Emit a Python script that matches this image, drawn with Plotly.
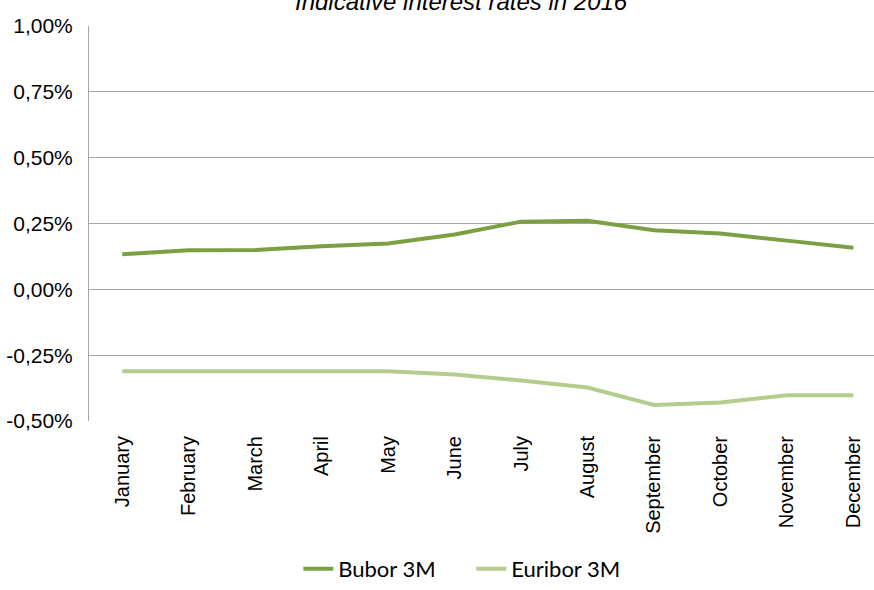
import plotly.graph_objects as go

months = ["January", "February", "March", "April", "May", "June", "July",
          "August", "September", "October", "November", "December"]
bubor = [0.133, 0.148, 0.149, 0.164, 0.174, 0.208, 0.257, 0.260, 0.224, 0.212, 0.185, 0.158]
euribor = [-0.311, -0.311, -0.311, -0.311, -0.311, -0.323, -0.346, -0.373, -0.439, -0.430, -0.402, -0.402]
ytick_vals = [-0.5, -0.25, 0.0, 0.25, 0.5, 0.75, 1.0]
ytick_text = ["-0,50%", "-0,25%", "0,00%", "0,25%", "0,50%", "0,75%", "1,00%"]
title_text = "Indicative interest rates in 2016"

fig = go.Figure()
fig.add_trace(go.Scatter(x=months, y=bubor, name="Bubor 3M", mode="lines",
                         line=dict(color="#7ba043", width=4)))
fig.add_trace(go.Scatter(x=months, y=euribor, name="Euribor 3M", mode="lines",
                         line=dict(color="#b4cd8f", width=4)))

fig.update_layout(
    width=874, height=590,
    margin=dict(l=89, r=0, t=26, b=162),
    plot_bgcolor="white", paper_bgcolor="white",
    showlegend=True,
    legend=dict(orientation="h", x=0.487, xanchor="center", y=-0.3756, yanchor="middle",
                font=dict(family="Lato", size=22, color="#000000"),
                entrywidth=128, itemwidth=30, tracegroupgap=0),
    annotations=[dict(text="<i>" + title_text + "</i>", xref="paper", yref="paper",
                      x=0.474, y=1.062, xanchor="center", yanchor="middle",
                      showarrow=False,
                      font=dict(family="Liberation Sans", size=24, color="#000000"))],
)
fig.update_xaxes(
    type="category", range=[-0.5, 11.31],
    tickangle=-90, showgrid=False, showline=False, zeroline=False,
    ticks="", ticklabelstandoff=10,
    tickfont=dict(family="Liberation Sans", size=20, color="#000000"),
)
fig.update_yaxes(
    range=[-0.5, 1.0], tickvals=ytick_vals, ticktext=ytick_text,
    showgrid=True, gridcolor="#a6a6a6", gridwidth=1,
    showline=True, linecolor="#a6a6a6", linewidth=1, zeroline=False,
    ticks="", ticklabelstandoff=11,
    tickfont=dict(family="Liberation Sans", size=21, color="#000000"),
)

fig.write_html("out.html")
